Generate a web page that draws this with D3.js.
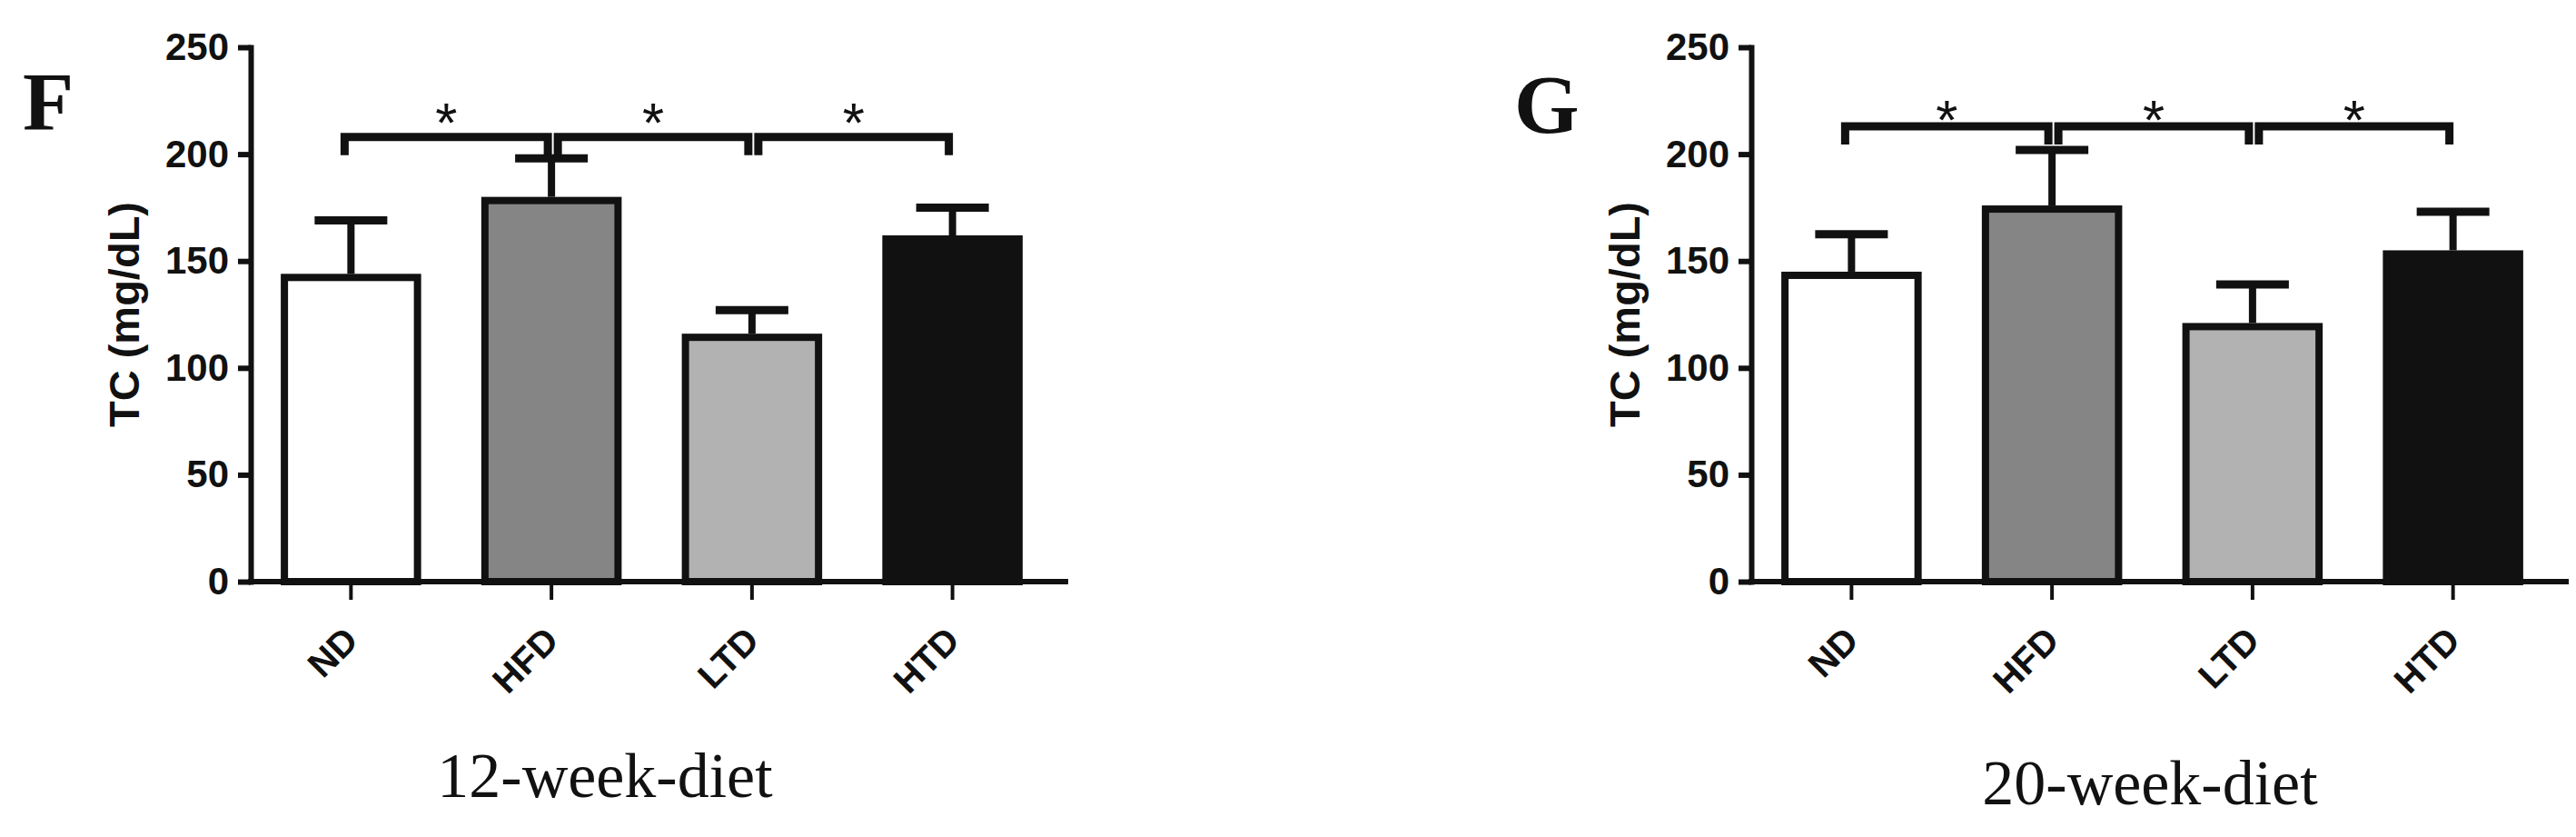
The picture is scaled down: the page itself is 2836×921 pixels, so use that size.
<!DOCTYPE html>
<html>
<head>
<meta charset="utf-8">
<script src="https://cdn.jsdelivr.net/npm/d3@7"></script>
<style>
  html, body { margin:0; padding:0; background:#fff; }
  svg { display:block; }
  .tick text { font-family:"Liberation Sans", Arial, sans-serif; font-weight:bold; fill:#111; }
</style>
</head>
<body>
<svg id="holder"></svg>
<script>
// groups and values (TC, mg/dL)
var groups=["ND","HFD","LTD","HTD"];
var tc_12wk=[144,180,116,162];
var err_12wk=[25,18,11,13];
var tc_20wk=[145,176,121,155];
var err_20wk=[17.5,26,18,18];
var y_ticks=[0,50,100,150,200,250];
var comparisons=[["ND","HFD"],["HFD","LTD"],["LTD","HTD"]];
var sig_mark="*";
var bracket_level_12wk=208;
var bracket_level_20wk=213;
var panel_letters=["F","G"];
var panel_titles=["12-week-diet","20-week-diet"];
var y_label="TC (mg/dL)";

var W=2836, H=921;
var bar_fill={ND:"#ffffff",HFD:"#858585",LTD:"#b2b2b2",HTD:"#111111"};
var ink="#111";

var svg=d3.select("#holder").attr("width",W).attr("height",H);

var panels=[
  {values:tc_12wk, errs:err_12wk, bracket:bracket_level_12wk, letter:panel_letters[0], title:panel_titles[0],
   x0:276, letter_dx:-251, letter_y:143, title_dx:390, title_y:877, star_gap:26},
  {values:tc_20wk, errs:err_20wk, bracket:bracket_level_20wk, letter:panel_letters[1], title:panel_titles[1],
   x0:1928, letter_dx:-261, letter_y:146, title_dx:439, title_y:885, star_gap:17}
];

var y0=640, y1=52;

panels.forEach(function(p) {
  var g=svg.append("g").attr("transform","translate("+p.x0+",0)");

  var x=d3.scaleBand().domain(groups).range([0,883]).paddingInner(0.3).paddingOuter(0.15);
  var y=d3.scaleLinear().domain([0,250]).range([y0,y1]);
  var bw=x.bandwidth();
  var sw=8;

  var rows=groups.map(function(k,i) {return {k:k,v:p.values[i],e:p.errs[i]};});
  // error bars (upper only)
  g.selectAll(".err").data(rows).enter().append("line")
    .attr("x1",function(d) {return x(d.k)+bw/2;})
    .attr("x2",function(d) {return x(d.k)+bw/2;})
    .attr("y1",function(d) {return y(d.v);})
    .attr("y2",function(d) {return y(d.v+d.e);})
    .attr("stroke",ink).attr("stroke-width",8);
  g.selectAll(".cap").data(rows).enter().append("line")
    .attr("x1",function(d) {return x(d.k)+bw/2-40;})
    .attr("x2",function(d) {return x(d.k)+bw/2+40;})
    .attr("y1",function(d) {return y(d.v+d.e);})
    .attr("y2",function(d) {return y(d.v+d.e);})
    .attr("stroke",ink).attr("stroke-width",9);
  // bars
  g.selectAll(".bar").data(rows).enter().append("rect")
    .attr("x",function(d) {return x(d.k)+sw/2;})
    .attr("width",bw-sw)
    .attr("y",function(d) {return y(d.v)+sw/2;})
    .attr("height",function(d) {return y(0)-y(d.v)-sw/2;})
    .attr("fill",function(d) {return bar_fill[d.k];})
    .attr("stroke",ink).attr("stroke-width",sw);

  // y axis
  var ya=g.append("g").call(d3.axisLeft(y).tickValues(y_ticks).tickSize(14).tickPadding(10).tickSizeOuter(0));
  ya.select(".domain").attr("stroke",ink).attr("stroke-width",6).attr("stroke-linecap","square");
  ya.selectAll(".tick line").attr("stroke",ink).attr("stroke-width",6);
  ya.selectAll(".tick text").style("font-size","42px");

  // x axis
  var xa=g.append("g").attr("transform","translate(0,"+y0+")")
    .call(d3.axisBottom(x).tickSize(20).tickSizeOuter(0));
  xa.select(".domain").remove();
  xa.selectAll(".tick line").attr("stroke",ink).attr("stroke-width",4);
  xa.selectAll(".tick text")
    .attr("x",10).attr("y",67).attr("dy",0)
    .attr("text-anchor","end")
    .attr("transform","rotate(-45,10,67)")
    .style("font-size","40px");
  g.append("line").attr("x1",-3).attr("x2",900).attr("y1",y0).attr("y2",y0)
    .attr("stroke",ink).attr("stroke-width",6);

  // y label
  g.append("text")
    .attr("transform","translate(-123,"+((y0+y1)/2)+") rotate(-90)")
    .attr("text-anchor","middle")
    .style("font-family","'Liberation Sans', Arial, sans-serif")
    .style("font-weight","bold").style("font-size","47px").attr("fill",ink)
    .text(y_label);

  // significance brackets
  var by=y(p.bracket);
  comparisons.forEach(function(c,i) {
    var xl=x(c[0])+bw/2+(i?7:-7);
    var xr=x(c[1])+bw/2-4;
    g.append("path")
      .attr("d","M"+xl+","+(by+20)+"V"+by+"H"+xr+"V"+(by+20))
      .attr("fill","none").attr("stroke",ink).attr("stroke-width",9);
    g.append("text")
      .attr("x",(xl+xr)/2).attr("y",by-p.star_gap+31)
      .attr("text-anchor","middle")
      .style("font-family","'Liberation Sans', Arial, sans-serif")
      .style("font-size","62px").attr("fill",ink)
      .text(sig_mark);
  });

  // panel letter
  svg.append("text")
    .attr("x",p.x0+p.letter_dx).attr("y",p.letter_y)
    .style("font-family","'Liberation Serif', 'Times New Roman', serif")
    .style("font-weight","bold").style("font-size","92px").attr("fill",ink)
    .text(p.letter);

  // bottom title
  svg.append("text")
    .attr("x",p.x0+p.title_dx).attr("y",p.title_y)
    .attr("text-anchor","middle")
    .style("font-family","'Liberation Serif', 'Times New Roman', serif")
    .style("font-size","70px").attr("fill",ink)
    .text(p.title);
});
</script>
</body>
</html>
